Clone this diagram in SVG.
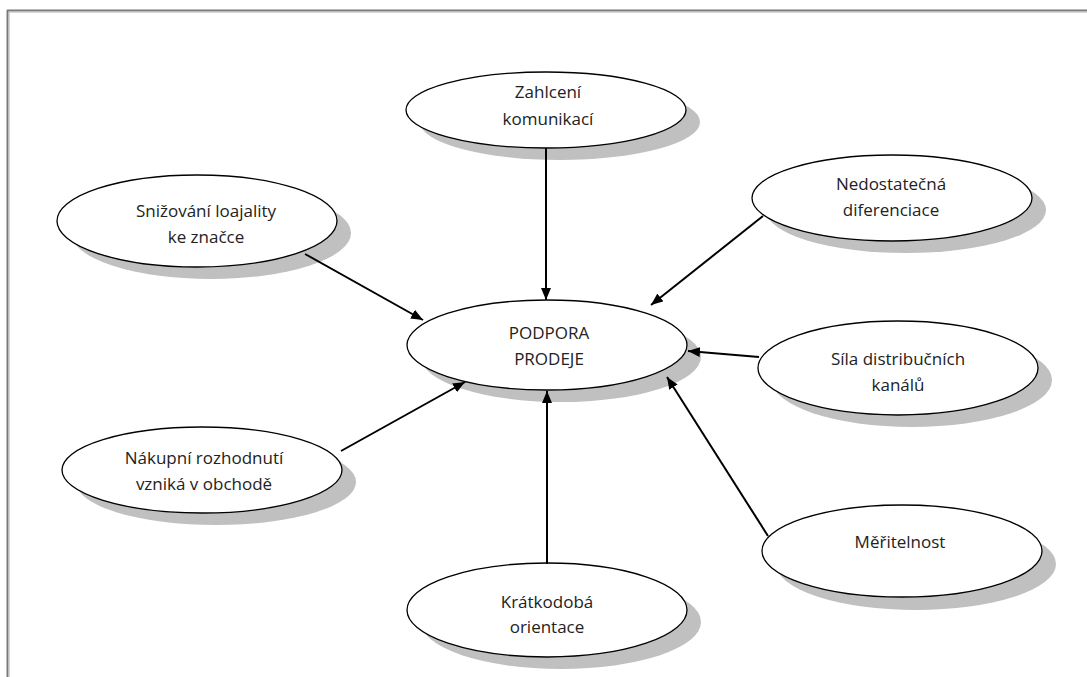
<svg xmlns="http://www.w3.org/2000/svg" width="1087" height="677" viewBox="0 0 1087 677">
  <style>
    .shadow { fill: #c0c0c0; stroke: none; }
    .node { fill: #ffffff; stroke: #000000; stroke-width: 1.3; }
    .label { font-family: "Open Sans", "Liberation Sans", sans-serif; font-size: 17px; fill: #222222; text-anchor: middle; }
    .edge { stroke: #000000; stroke-width: 2; fill: none; marker-end: url(#arrow); }
    .frame-dark { stroke: #7a7a7a; stroke-width: 2; }
    .frame-light { stroke: #d6d6d6; stroke-width: 1; }
  </style>
  <defs>
    <marker id="arrow" viewBox="0 0 12 10" refX="12" refY="5" markerWidth="12" markerHeight="10" markerUnits="userSpaceOnUse" orient="auto">
      <path d="M0,0 L12,5 L0,10 Z" fill="#000000"/>
    </marker>
  </defs>

  <rect width="1087" height="677" fill="#ffffff"/>

  <!-- page frame -->
  <g id="frame">
    <line class="frame-dark" x1="7" y1="10.5" x2="1087" y2="10.5"/>
    <line class="frame-light" x1="9" y1="12.5" x2="1087" y2="12.5"/>
    <line class="frame-dark" x1="7.5" y1="10" x2="7.5" y2="677"/>
    <line class="frame-light" x1="9.5" y1="12" x2="9.5" y2="677"/>
  </g>

  <g id="node-zahlceni">
    <ellipse class="shadow" cx="560" cy="122" rx="140" ry="38"/>
    <ellipse class="node" cx="546" cy="110" rx="140" ry="38"/>
    <text class="label" x="548" y="98">Zahlcení</text>
    <text class="label" x="548" y="125">komunikací</text>
  </g>

  <g id="node-snizovani">
    <ellipse class="shadow" cx="211" cy="233" rx="140" ry="46"/>
    <ellipse class="node" cx="197" cy="221" rx="140" ry="46"/>
    <text class="label" x="206" y="217">Snižování loajality</text>
    <text class="label" x="206" y="243">ke značce</text>
  </g>

  <g id="node-nedostatecna">
    <ellipse class="shadow" cx="906" cy="210" rx="140" ry="43"/>
    <ellipse class="node" cx="892" cy="198" rx="140" ry="43"/>
    <text class="label" x="891" y="190">Nedostatečná</text>
    <text class="label" x="891" y="216">diferenciace</text>
  </g>

  <g id="node-podpora">
    <ellipse class="shadow" cx="561" cy="357" rx="140" ry="45"/>
    <ellipse class="node" cx="547" cy="345" rx="140" ry="45"/>
    <text class="label" x="549" y="339">PODPORA</text>
    <text class="label" x="549" y="365">PRODEJE</text>
  </g>

  <g id="node-sila">
    <ellipse class="shadow" cx="912" cy="380" rx="140" ry="47"/>
    <ellipse class="node" cx="898" cy="368" rx="140" ry="47"/>
    <text class="label" x="898" y="365">Síla distribučních</text>
    <text class="label" x="898" y="391">kanálů</text>
  </g>

  <g id="node-nakupni">
    <ellipse class="shadow" cx="216" cy="482" rx="140" ry="43"/>
    <ellipse class="node" cx="202" cy="470" rx="140" ry="43"/>
    <text class="label" x="204" y="464">Nákupní rozhodnutí</text>
    <text class="label" x="204" y="490">vzniká v obchodě</text>
  </g>

  <g id="node-meritelnost">
    <ellipse class="shadow" cx="916" cy="564" rx="140" ry="46"/>
    <ellipse class="node" cx="902" cy="551" rx="140" ry="46"/>
    <text class="label" x="900" y="548">Měřitelnost</text>
  </g>

  <g id="node-kratkodoba">
    <ellipse class="shadow" cx="561" cy="622" rx="140" ry="47"/>
    <ellipse class="node" cx="547" cy="610" rx="140" ry="47"/>
    <text class="label" x="547" y="608">Krátkodobá</text>
    <text class="label" x="547" y="633">orientace</text>
  </g>

  <!-- connectors, drawn over the node shadows -->
  <g id="connectors">
    <line class="edge" x1="546" y1="148" x2="546" y2="300"/>
    <line class="edge" x1="305" y1="254" x2="423" y2="320"/>
    <line class="edge" x1="763" y1="216" x2="651" y2="305"/>
    <line class="edge" x1="759" y1="357" x2="688" y2="351"/>
    <line class="edge" x1="341" y1="451" x2="465" y2="382"/>
    <line class="edge" x1="547" y1="564" x2="547" y2="391"/>
    <line class="edge" x1="768" y1="536" x2="667" y2="377"/>
  </g>
</svg>
